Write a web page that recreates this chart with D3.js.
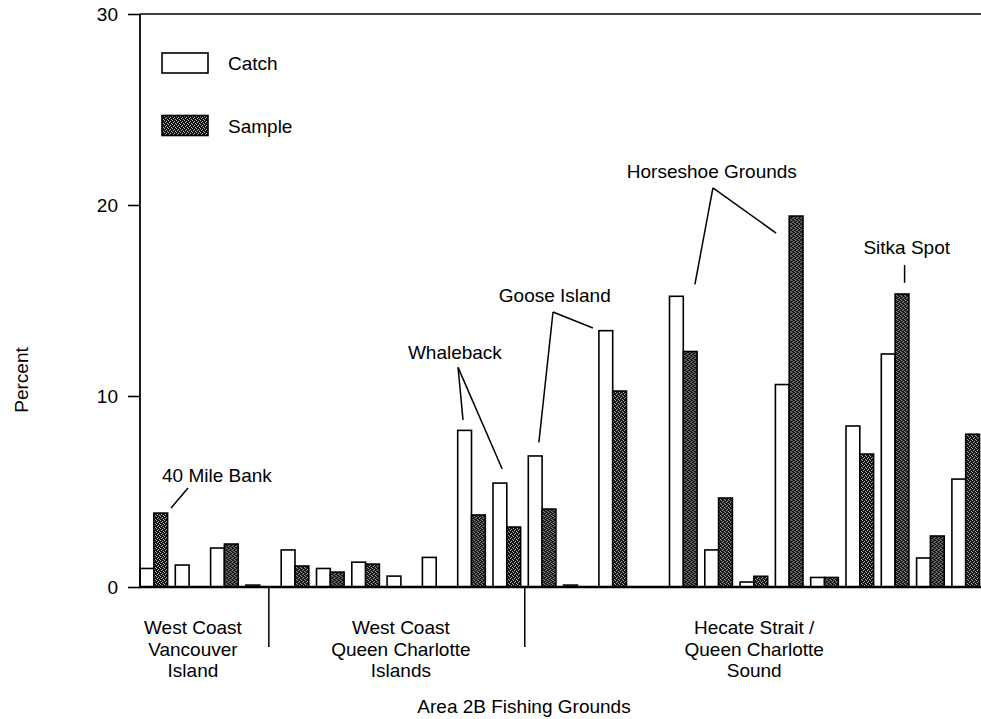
<!DOCTYPE html>
<html><head><meta charset="utf-8">
<script src="https://cdn.jsdelivr.net/npm/d3@7"></script>
<style>body{margin:0;background:#fff}svg{display:block}text{font-family:"Liberation Sans",Arial,Helvetica,sans-serif;fill:#000}</style>
</head><body>
<svg id="c" width="981" height="719"></svg>
<script>
// ---- data ----
const groups = d3.range(25).map(i => "G" + (i + 1));
const catchVals  = [0.97,1.15,2.04,0.10,1.94,0.97,1.30,0.57,1.55,8.20,5.44,6.86,0.10,13.42,0,15.22,1.94,0.26,10.60,0.50,8.43,12.20,1.52,5.65,12.90];
const sampleVals = [3.87,0,2.25,0,1.10,0.78,1.20,0,0,3.77,3.14,4.08,0,10.26,0,12.33,4.66,0.56,19.42,0.50,6.96,15.34,2.67,8.00,0];
const series = ["Catch","Sample"];
const yTicks = [0,10,20,30];
const regions = [
  {lines:["West Coast","Vancouver","Island"], center:1.5},
  {lines:["West Coast","Queen Charlotte","Islands"], center:7.39},
  {lines:["Hecate Strait /","Queen Charlotte","Sound"], center:17.4}
];
const dividers = [3.65, 10.9];
const annotations = [
  {text:"40 Mile Bank", tx:2.18, ty:5.86, legs:[[[1.36,5.18],[0.88,4.14]]]},
  {text:"Whaleback", tx:8.92, ty:12.3, vx:9.01, vy:11.5, legs:[[9.15,8.75],[10.26,6.18]]},
  {text:"Goose Island", tx:11.75, ty:15.3, vx:11.70, vy:14.4, legs:[[12.83,13.56],[11.3,7.57]]},
  {text:"Horseshoe Grounds", tx:16.2, ty:21.8, vx:16.23, vy:20.9, legs:[[15.72,15.84],[18.02,18.53]]},
  {text:"Sitka Spot", tx:21.72, ty:17.8, vx:21.66, vy:16.86, legs:[[21.66,15.92]]}
];

// ---- layout ----
const svg = d3.select("#c");
const L = 140, R = 981, T = 14, B = 587;
const step = 35.3;
const FS = 19;
const x = d3.scaleBand().domain(groups).range([L, L + step * groups.length]).paddingInner(0).paddingOuter(0);
const xs = d3.scaleBand().domain(series).range([0, 27.6]);
const y = d3.scaleLinear().domain([0,30]).range([B, T]);
const kx = k => L + k * step;

const defs = svg.append("defs");
const pat = defs.append("pattern").attr("id","stip").attr("width",4).attr("height",4).attr("patternUnits","userSpaceOnUse");
pat.append("rect").attr("width",4).attr("height",4).attr("fill","#111");
[[0,0],[2,1],[1,2],[3,3]].forEach(([a,b]) => pat.append("rect").attr("x",a).attr("y",b).attr("width",1).attr("height",1).attr("fill","#bbb"));
defs.append("clipPath").attr("id","clip").append("rect").attr("x",0).attr("y",0).attr("width",R).attr("height",719);

// bars
const g = svg.append("g").attr("clip-path","url(#clip)");
const rows = groups.map((grp,i) => ({grp, vals:[{s:"Catch",v:catchVals[i]},{s:"Sample",v:sampleVals[i]}]}));
const gg = g.selectAll("g.grp").data(rows).join("g").attr("transform", d => `translate(${x(d.grp)},0)`);
gg.selectAll("rect").data(d => d.vals.filter(e => e.v > 0)).join("rect")
  .attr("x", e => xs(e.s)).attr("width", xs.bandwidth())
  .attr("y", e => y(e.v)).attr("height", e => y(0) - y(e.v))
  .attr("fill", e => e.s === "Catch" ? "#fff" : "url(#stip)")
  .attr("stroke","#000").attr("stroke-width",1.6);

// axes
const yAxis = d3.axisLeft(y).tickValues(yTicks).tickSize(12).tickPadding(10).tickFormat(d3.format("d"));
const ya = svg.append("g").attr("transform",`translate(${L},0)`).call(yAxis);
ya.select(".domain").remove();
ya.selectAll(".tick line").attr("stroke","#000").attr("stroke-width",1.6);
ya.selectAll(".tick text").attr("font-size",FS).attr("font-family","Liberation Sans, Arial, sans-serif").attr("fill","#000");
svg.append("line").attr("x1",L).attr("x2",L).attr("y1",T).attr("y2",B).attr("stroke","#000").attr("stroke-width",1.8);
svg.append("line").attr("x1",L).attr("x2",R).attr("y1",T).attr("y2",T).attr("stroke","#000").attr("stroke-width",1.6);
svg.append("line").attr("x1",L-1).attr("x2",R).attr("y1",B).attr("y2",B).attr("stroke","#000").attr("stroke-width",2.6);

// dividers
dividers.forEach(k => svg.append("line").attr("x1",kx(k)).attr("x2",kx(k)).attr("y1",B).attr("y2",B+60).attr("stroke","#000").attr("stroke-width",1.5));

// region labels
regions.forEach(r => {
  const cx = kx(r.center);
  const t = svg.append("text").attr("text-anchor","middle").attr("font-size",FS);
  r.lines.forEach((ln,i) => t.append("tspan").attr("x",cx).attr("y",B+47+i*21.5).text(ln));
});

svg.append("text").attr("x",524).attr("y",713).attr("text-anchor","middle").attr("font-size",FS).text("Area 2B Fishing Grounds");
svg.append("text").attr("transform","translate(28,380) rotate(-90)").attr("text-anchor","middle").attr("font-size",FS).text("Percent");

// annotations
annotations.forEach(a => {
  svg.append("text").attr("x",kx(a.tx)).attr("y",y(a.ty)+7).attr("text-anchor","middle").attr("font-size",FS).text(a.text);
  if (a.vx === undefined) {
    a.legs.forEach(([p,q]) => svg.append("line").attr("x1",kx(p[0])).attr("y1",y(p[1])).attr("x2",kx(q[0])).attr("y2",y(q[1])).attr("stroke","#000").attr("stroke-width",1.5));
  } else {
    a.legs.forEach(q => svg.append("line").attr("x1",kx(a.vx)).attr("y1",y(a.vy)).attr("x2",kx(q[0])).attr("y2",y(q[1])).attr("stroke","#000").attr("stroke-width",1.5));
  }
});

// legend
const leg = svg.append("g");
series.forEach((s,i) => {
  const yy = 53 + i * 62.5;
  leg.append("rect").attr("x",162).attr("y",yy).attr("width",46).attr("height",20)
    .attr("fill", s === "Catch" ? "#fff" : "url(#stip)").attr("stroke","#000").attr("stroke-width",1.6);
  leg.append("text").attr("x",228).attr("y",yy+17).attr("font-size",FS).text(s);
});
</script>
</body></html>
